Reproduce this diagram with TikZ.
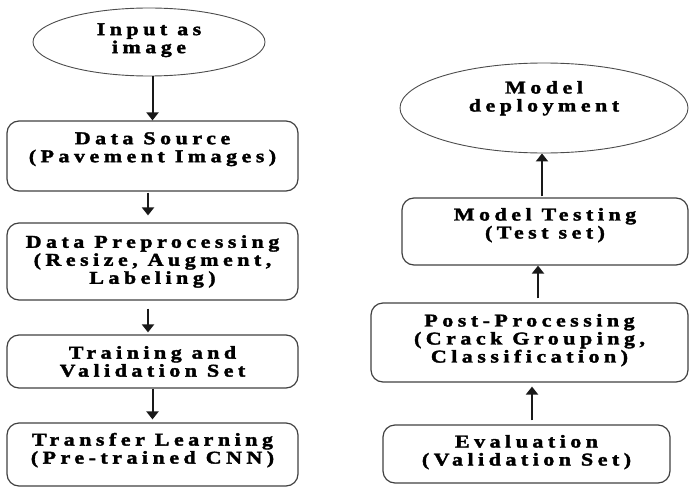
\documentclass[tikz,border=0pt]{standalone}
\usepackage{fontspec}
\newfontfamily\diagfont{Liberation Serif}[FakeStretch=1.22,LetterSpace=25,BoldFont={Liberation Serif Bold},BoldFeatures={FakeBold=2}]
\usetikzlibrary{shapes.geometric,arrows.meta}
\begin{document}
\begin{tikzpicture}[x=1pt,y=-1pt,
  txt/.style={align=center,font=\fontsize{18}{18}\diagfont\bfseries,inner sep=0pt},
  box/.style={txt,draw=black!75,line width=1.2pt,rounded corners=12pt},
  oval/.style={txt,ellipse,draw=black!70,line width=0.9pt},
  arr/.style={draw=black!90,line width=2pt,-{Triangle[width=12pt,length=8pt]}}]
\useasboundingbox (0,0) rectangle (690,487);
% left column
\node[oval,minimum width=232pt,minimum height=68pt,text depth=7.5pt] (in) at (149,42) {Input as\\image};
\node[box,minimum width=291pt,minimum height=70pt,text depth=17.5pt] (ds) at (152.5,156) {Data Source\\(Pavement Images)};
\node[box,minimum width=291pt,minimum height=77pt] (dp) at (152.5,261.5) {Data Preprocessing\\(Resize, Augment,\\Labeling)};
\node[box,minimum width=291pt,minimum height=53pt] (tv) at (152.5,361.5) {Training and\\Validation Set};
\node[box,minimum width=291pt,minimum height=63pt,text depth=12.5pt] (tl) at (152.5,454.5) {Transfer Learning\\(Pre-trained CNN)};
% right column
\node[oval,minimum width=288pt,minimum height=90pt,text depth=23.5pt] (md) at (544,108) {Model\\deployment};
\node[box,minimum width=286pt,minimum height=67pt,text depth=16.5pt] (mt) at (545,231.5) {Model Testing\\(Test set)};
\node[box,minimum width=317pt,minimum height=79pt,text depth=8.5pt] (pp) at (529.5,342.5) {Post-Processing\\(Crack Grouping,\\Classification)};
\node[box,minimum width=287pt,minimum height=58pt,text depth=7.5pt] (ev) at (526.5,454) {Evaluation\\(Validation Set)};
% arrows
\draw[arr] (ds.north |- in.south) -- (ds.north);
\draw[arr,shorten <=1pt,shorten >=7pt] ([xshift=-4.5pt]ds.south) -- ([xshift=-4.5pt]dp.north);
\draw[arr,shorten <=8pt,shorten >=2pt] ([xshift=-4.5pt]dp.south) -- ([xshift=-4.5pt]tv.north);
\draw[arr,shorten >=3pt] (tv.south) -- (tl.north);
\draw[arr,shorten <=4pt,shorten >=4pt] ([xshift=5.5pt]ev.north) -- ([xshift=2.5pt]pp.south);
\draw[arr,shorten <=4pt] ([xshift=8.5pt]pp.north) -- ([xshift=-7pt]mt.south);
\draw[arr,shorten <=1pt] ([xshift=-3pt]mt.north) -- ([xshift=-2pt]md.south);
\end{tikzpicture}
\end{document}
